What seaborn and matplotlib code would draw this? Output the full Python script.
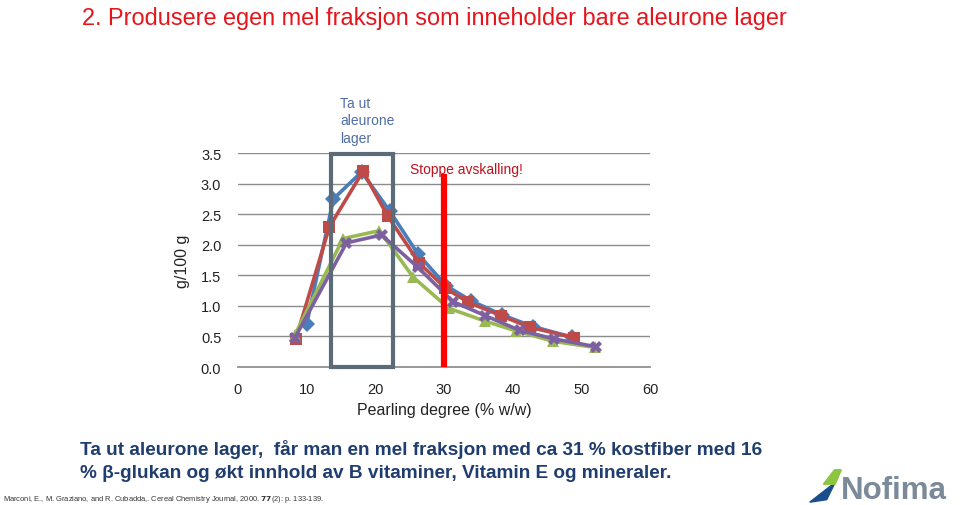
import numpy as np
import pandas as pd
import matplotlib
matplotlib.use("Agg")
import matplotlib.pyplot as plt
import matplotlib.patches as mpatches
import seaborn as sns

# ---- data ----
blue_x = [10.0, 13.9, 18.0, 22.1, 26.2, 30.3, 34.0, 38.5, 43.0, 48.6]
blue_y = [0.70, 2.75, 3.19, 2.55, 1.85, 1.33, 1.08, 0.85, 0.66, 0.49]
red_x = [8.4, 13.3, 18.2, 21.8, 26.4, 30.2, 33.5, 38.3, 42.5, 49.0]
red_y = [0.45, 2.29, 3.20, 2.47, 1.70, 1.29, 1.06, 0.84, 0.65, 0.48]
green_x = [8.3, 15.3, 20.6, 25.5, 30.7, 36.0, 40.5, 45.9, 52.0]
green_y = [0.53, 2.10, 2.23, 1.47, 0.96, 0.75, 0.59, 0.42, 0.32]
purple_x = [8.3, 15.8, 20.9, 26.2, 31.3, 36.0, 41.0, 46.0, 52.2]
purple_y = [0.48, 2.03, 2.16, 1.63, 1.07, 0.84, 0.60, 0.46, 0.33]
series_names = ["A", "B", "C", "D"]
x_ticks = [0, 10, 20, 30, 40, 50, 60]
y_ticks = [0.0, 0.5, 1.0, 1.5, 2.0, 2.5, 3.0, 3.5]
box_x = [13.5, 22.6]
stop_x = 30.0
stop_top = 3.16

rows = []
for name, xs, ys in zip(series_names, [blue_x, red_x, green_x, purple_x],
                        [blue_y, red_y, green_y, purple_y]):
    for xv, yv in zip(xs, ys):
        rows.append({"x": xv, "y": yv, "s": name})
df = pd.DataFrame(rows)

sns.set_theme(style="white")
plt.rcParams["font.family"] = ["Liberation Sans", "DejaVu Sans"]

fig = plt.figure(figsize=(9.6, 5.06), dpi=100)
fig.patch.set_facecolor("white")
ax = fig.add_axes([238/960, 1-368/506, (650-238)/960, (368-154)/506])

palette = {"A": "#4a7ebb", "B": "#be4b48", "C": "#98b954", "D": "#7d60a0"}
markers = {"A": "D", "B": "s", "C": "^", "D": "X"}
sns.lineplot(data=df, x="x", y="y", hue="s", style="s", palette=palette,
             markers=markers, dashes=False, sort=False, linewidth=2.6,
             markersize=8, markeredgewidth=0, legend=False, ax=ax, zorder=3)

ax.set_xlim(0, 60)
ax.set_ylim(0, 3.5)
ax.set_xticks(x_ticks)
ax.set_yticks(y_ticks)
ax.set_xticklabels([str(t) for t in x_ticks], fontsize=10.5, color="#222222")
ax.set_yticklabels([f"{t:.1f}" for t in y_ticks], fontsize=10.5, color="#222222")
ax.yaxis.grid(True, color="#8c8c8c", linewidth=1.0)
ax.set_axisbelow(True)
for s in ["top", "right", "left"]:
    ax.spines[s].set_visible(False)
ax.spines["bottom"].set_color("#8c8c8c")
ax.tick_params(axis="x", direction="out", length=5, color="#8c8c8c", pad=6)
ax.tick_params(axis="y", length=0, pad=12)
ax.set_xlabel("Pearling degree (% w/w)", fontsize=11.5, color="#222222", labelpad=4)
ax.set_ylabel("g/100 g", fontsize=11.5, color="#222222", labelpad=8)

# box around aleurone region
rect = mpatches.Rectangle((box_x[0], 0), box_x[1]-box_x[0], 3.49, fill=False,
                          edgecolor="#5b6b78", linewidth=3, zorder=4,
                          clip_on=False)
ax.add_patch(rect)
# stop line
ax.plot([stop_x, stop_x], [0, stop_top], color="#ff0000", linewidth=4.5,
        zorder=5, solid_capstyle="butt")

fig.text(82/960, 1-18/506, "2. Produsere egen mel fraksjon som inneholder bare aleurone lager",
         color="#e8141b", fontsize=16.9, va="center", ha="left")
fig.text(340/960, 1-97/506, "Ta ut\naleurone\nlager", color="#4f6ea8",
         fontsize=10, va="top", ha="left", linespacing=1.3)
fig.text(410/960, 1-170/506, "Stoppe avskalling!", color="#c0101a",
         fontsize=10, va="center", ha="left")

fig.text(80/960, 1-450/506, "Ta ut aleurone lager,  får man en mel fraksjon med ca 31 % kostfiber med 16",
         color="#1f3d6e", fontsize=13.7, fontweight="bold", va="center", ha="left")
fig.text(80/960, 1-473/506, "% β-glukan og økt innhold av B vitaminer, Vitamin E og mineraler.",
         color="#1f3d6e", fontsize=13.7, fontweight="bold", va="center", ha="left")
fig.text(3/960, 1-500/506,
         "Marconi, E., M. Graziano, and R. Cubadda,. Cereal Chemistry Journal, 2000. $\\mathbf{77}$(2): p. 133-139.",
         color="#333333", fontsize=5.4, va="center", ha="left")

# Nofima logo (text)
fig.text(841/960, 1-491/506, "Nofima", color="#7a8a99", fontsize=22.5,
         fontweight="bold", va="center", ha="left")
lax = fig.add_axes([808/960, 1-505/506, 34/960, 36/506])
lax.axis("off")
lax.set_xlim(0, 1); lax.set_ylim(0, 1)
lax.add_patch(mpatches.Polygon([[0.05, 0.05], [0.55, 0.12], [0.8, 0.6], [0.5, 0.38]],
                               closed=True, color="#1a4f8c"))
lax.add_patch(mpatches.Polygon([[0.45, 0.55], [0.78, 0.95], [0.98, 0.95], [0.8, 0.55]],
                               closed=True, color="#8cc63f"))

fig.savefig("out.png", dpi=100, facecolor="white")
